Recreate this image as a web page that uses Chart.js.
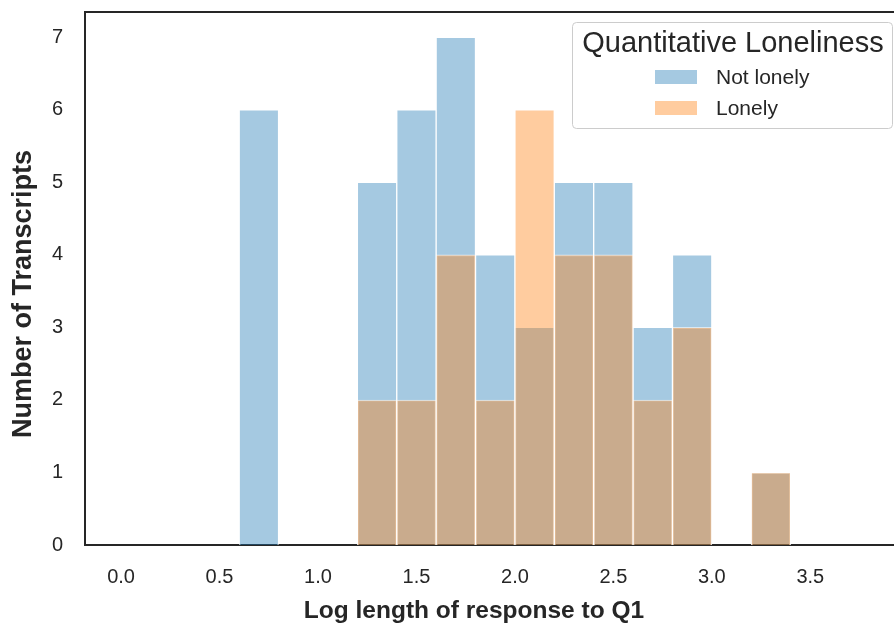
<!DOCTYPE html>
<html>
<head>
<meta charset="utf-8">
<script src="https://cdn.jsdelivr.net/npm/chart.js@4.4.1/dist/chart.umd.min.js"></script>
<style>
  html, body { margin: 0; padding: 0; background: #fff; }
  #wrap { width: 894px; height: 625px; }
</style>
</head>
<body>
<div id="wrap"><canvas id="histCanvas" width="894" height="625"></canvas></div>
<script>
// Histogram data - bin left edges and counts per group
const binStarts = [0.6, 0.8, 1.0, 1.2, 1.4, 1.6, 1.8, 2.0, 2.2, 2.4, 2.6, 2.8, 3.0, 3.2];
const binWidth = 0.2;
const notLonelyCounts = [6, 0, 0, 5, 6, 7, 4, 3, 5, 5, 3, 4, 0, 1];
const lonelyCounts    = [0, 0, 0, 2, 2, 4, 2, 6, 4, 4, 2, 3, 0, 1];
const seriesNames = ['Not lonely', 'Lonely'];
const legendTitle = 'Quantitative Loneliness';
const xTickValues = [0.0, 0.5, 1.0, 1.5, 2.0, 2.5, 3.0, 3.5];
const yTickValues = [0, 1, 2, 3, 4, 5, 6, 7];
const xAxisTitle = 'Log length of response to Q1';
const yAxisTitle = 'Number of Transcripts';

const blueFill = 'rgba(31, 119, 180, 0.4)';
const orangeFill = 'rgba(255, 127, 14, 0.4)';
const spineColor = '#262626';
const textColor = '#262626';
const fontFamily = "'Liberation Sans', Arial, sans-serif";

// turn counts into {x: bin centre, y: count}, skipping empty bins
function toPoints(counts) {
    const pts = [];
    counts.forEach(function(c, i) {
        if (c > 0) pts.push({ x: binStarts[i] + binWidth / 2, y: c });
    });
    return pts;
}

// top spine (no right spine - the figure is cut at the right edge)
const topSpine = {
    id: 'topSpine',
    afterDraw(chart) {
        const ctx = chart.ctx;
        const a = chart.chartArea;
        ctx.save();
        ctx.strokeStyle = spineColor;
        ctx.lineWidth = 2;
        ctx.beginPath();
        ctx.moveTo(a.left - 1, a.top);
        ctx.lineTo(a.right, a.top);
        ctx.stroke();
        ctx.restore();
    }
};

// axis titles - placed where the original figure has them (not centred on the plot area)
const axisTitles = {
    id: 'axisTitles',
    afterDraw(chart) {
        const ctx = chart.ctx;
        ctx.save();
        ctx.fillStyle = textColor;
        ctx.textAlign = 'center';
        ctx.textBaseline = 'middle';
        ctx.font = 'bold 24.5px ' + fontFamily;
        ctx.fillText(xAxisTitle, 474, 611);

        ctx.translate(24, 294);
        ctx.rotate(-Math.PI / 2);
        ctx.font = 'bold 27px ' + fontFamily;
        ctx.fillText(yAxisTitle, 0, 0);
        ctx.restore();
    }
};

// legend with a title inside a framed box, like matplotlib's
const boxLegend = {
    id: 'boxLegend',
    afterDraw(chart) {
        const ctx = chart.ctx;
        const x0 = 572, y0 = 22, w = 320, h = 106;
        ctx.save();
        ctx.fillStyle = 'rgba(255,255,255,0.8)';
        ctx.strokeStyle = '#cccccc';
        ctx.lineWidth = 1;
        ctx.beginPath();
        ctx.roundRect(x0 + 0.5, y0 + 0.5, w, h, 4);
        ctx.fill();
        ctx.stroke();

        ctx.fillStyle = textColor;
        ctx.textAlign = 'center';
        ctx.textBaseline = 'middle';
        ctx.font = '29px ' + fontFamily;
        ctx.fillText(legendTitle, x0 + w / 2 + 1, 44);

        const fills = chart.data.datasets.map(d => d.backgroundColor);
        ctx.font = '21px ' + fontFamily;
        ctx.textAlign = 'left';
        seriesNames.forEach(function(name, i) {
            const cy = 77 + i * 31;
            ctx.fillStyle = fills[i];
            ctx.fillRect(655, cy - 7, 42, 14);
            ctx.fillStyle = textColor;
            ctx.fillText(name, 716, cy + 1);
        });
        ctx.restore();
    }
};

const ctx = document.getElementById('histCanvas');
const histChart = new Chart(ctx, {
    type: 'bar',
    data: {
        datasets: [
            {
                label: seriesNames[0],
                data: toPoints(notLonelyCounts),
                backgroundColor: blueFill,
                borderColor: 'rgba(255,255,255,0.6)',
                borderWidth: 1,
                grouped: false,
                order: 2
            },
            {
                label: seriesNames[1],
                data: toPoints(lonelyCounts),
                backgroundColor: orangeFill,
                borderColor: 'rgba(255,255,255,0.6)',
                borderWidth: 1,
                grouped: false,
                order: 1
            }
        ]
    },
    options: {
        responsive: false,
        animation: false,
        barPercentage: 1,
        categoryPercentage: 1,
        layout: { padding: { top: 12, right: 0, left: 0, bottom: 0 } },
        plugins: {
            legend: { display: false },
            tooltip: { enabled: false }
        },
        scales: {
            x: {
                type: 'linear',
                offset: false,
                min: -0.183,
                max: 3.925,
                grid: { display: false, drawTicks: false, offset: false },
                border: { display: true, color: spineColor, width: 2 },
                afterBuildTicks: function(axis) {
                    axis.ticks = xTickValues.map(v => ({ value: v }));
                },
                afterFit: function(axis) {
                    axis.height = 80;
                    axis.paddingLeft = 0;
                    axis.paddingRight = 0;
                },
                ticks: {
                    color: textColor,
                    padding: 20,
                    maxRotation: 0,
                    autoSkip: false,
                    font: { family: fontFamily, size: 20 },
                    callback: v => Number(v).toFixed(1)
                },
                title: { display: false }
            },
            y: {
                min: 0,
                max: 7.35,
                grid: { display: false, drawTicks: false },
                border: { display: true, color: spineColor, width: 2 },
                afterBuildTicks: function(axis) {
                    axis.ticks = yTickValues.map(v => ({ value: v }));
                },
                afterFit: function(axis) {
                    axis.width = 85;
                    axis.paddingTop = 0;
                    axis.paddingBottom = 0;
                },
                ticks: {
                    color: textColor,
                    padding: 22,
                    font: { family: fontFamily, size: 20 }
                },
                title: { display: false }
            }
        }
    },
    plugins: [topSpine, axisTitles, boxLegend]
});
</script>
</body>
</html>
